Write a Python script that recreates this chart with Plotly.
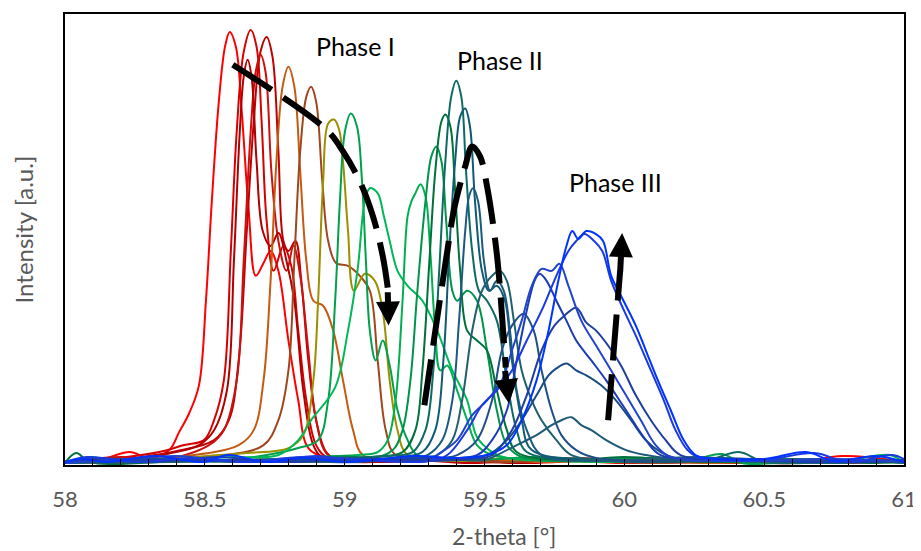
import plotly.graph_objects as go

# ---------------- data (2-theta in degrees, intensity in a.u.) ----------------
x_ticks = [58, 58.5, 59, 59.5, 60, 60.5, 61]
x_tick_labels = ["58", "58.5", "59", "59.5", "60", "60.5", "61"]

# Phase I (red -> brown -> olive -> green)
c01 = [(58.000,3),(58.124,5),(58.231,13),(58.302,7),(58.373,15),(58.408,33),(58.444,52),(58.479,80),(58.504,165),(58.525,265),(58.550,365),(58.572,420),(58.589,435),(58.611,420),(58.632,355),(58.657,255),(58.682,190),(58.710,203),(58.735,215),(58.763,195),(58.799,125),(58.834,65),(58.870,17),(58.941,7),(59.1,4),(59.3,8),(59.5,3),(59.7,6),(60.0,2),(60.3,5),(60.6,2),(60.78,9),(61.0,3)]
c02 = [(58.000,2),(58.195,7),(58.337,13),(58.426,20),(58.497,25),(58.533,45),(58.568,85),(58.593,215),(58.614,335),(58.639,415),(58.664,437),(58.685,420),(58.703,345),(58.721,245),(58.746,195),(58.781,220),(58.809,200),(58.834,135),(58.863,65),(58.898,20),(58.941,7),(59.15,3),(59.4,7),(59.65,2),(59.9,5),(60.2,3),(60.5,6),(60.75,2),(61.0,4)]
c03 = [(58.000,4),(58.15,3),(58.3,9),(58.40,14),(58.533,25),(58.586,45),(58.621,105),(58.650,235),(58.675,345),(58.699,415),(58.721,430),(58.742,410),(58.763,315),(58.781,225),(58.799,215),(58.824,225),(58.845,185),(58.870,105),(58.898,45),(58.934,13),(58.976,5),(59.2,6),(59.45,2),(59.7,5),(60.0,3),(60.35,6),(60.6,2),(60.85,5),(61.0,2)]
c04 = [(58.000,3),(58.2,8),(58.35,5),(58.515,20),(58.568,35),(58.614,85),(58.639,205),(58.664,335),(58.682,395),(58.699,412),(58.717,395),(58.738,295),(58.763,225),(58.792,195),(58.817,220),(58.841,190),(58.870,115),(58.898,45),(58.941,10),(59.05,4),(59.25,7),(59.55,3),(59.8,6),(60.1,2),(60.4,5),(60.7,3),(61.0,5)]
c05 = [(58.000,2),(58.1,6),(58.25,4),(58.38,12),(58.479,20),(58.533,35),(58.579,75),(58.604,205),(58.625,335),(58.639,390),(58.653,407),(58.667,390),(58.685,305),(58.707,235),(58.735,220),(58.763,233),(58.792,205),(58.820,165),(58.852,75),(58.888,20),(58.923,7),(59.1,3),(59.35,6),(59.6,2),(59.85,5),(60.15,3),(60.45,2),(60.8,4),(61.0,3)]
c06 = [(58.000,3),(58.2,5),(58.4,8),(58.621,20),(58.675,35),(58.710,85),(58.735,185),(58.756,305),(58.778,380),(58.799,400),(58.820,380),(58.841,295),(58.863,205),(58.888,165),(58.923,160),(58.959,135),(58.994,85),(59.030,35),(59.065,10),(59.2,4),(59.45,7),(59.7,3),(60.0,5),(60.3,2),(60.6,4),(61.0,3)]
c07 = [(58.000,2),(58.3,5),(58.55,9),(58.710,20),(58.763,45),(58.799,95),(58.820,205),(58.841,315),(58.863,370),(58.880,380),(58.898,365),(58.920,285),(58.941,225),(58.969,203),(59.012,200),(59.054,190),(59.090,175),(59.118,105),(59.147,35),(59.182,10),(59.35,6),(59.6,3),(59.85,7),(60.1,2),(60.4,5),(60.7,3),(61.0,4)]
c08 = [(58.000,3),(58.3,4),(58.55,10),(58.65,12),(58.799,17),(58.852,30),(58.888,85),(58.905,165),(58.923,285),(58.941,343),(58.962,347),(58.980,337),(58.994,305),(59.012,235),(59.033,175),(59.072,192),(59.108,185),(59.136,155),(59.161,85),(59.189,35),(59.225,10),(59.4,4),(59.6,7),(59.9,3),(60.2,5),(60.5,2),(60.8,4),(61.0,2)]
c09 = [(58.000,2),(58.1,8),(58.16,2),(58.3,6),(58.55,4),(58.7,9),(58.834,17),(58.905,25),(58.941,65),(58.966,165),(58.983,265),(59.001,335),(59.022,353),(59.044,340),(59.062,285),(59.076,205),(59.090,135),(59.111,105),(59.136,125),(59.161,100),(59.189,55),(59.225,25),(59.260,10),(59.45,5),(59.7,8),(59.95,3),(60.25,6),(60.35,11),(60.42,2),(60.55,2),(60.85,5),(61.0,3)]
c10 = [(58.000,3),(58.3,5),(58.6,8),(58.763,10),(58.834,25),(58.880,45),(58.966,78),(59.012,135),(59.047,198),(59.072,265),(59.090,278),(59.118,273),(59.140,250),(59.161,225),(59.189,195),(59.225,180),(59.278,165),(59.331,135),(59.385,95),(59.438,65),(59.473,28),(59.527,13),(59.580,7),(59.8,4),(60.05,7),(60.35,3),(60.65,5),(61.0,2)]

# Phase II (green -> teal)
c11 = [(58.000,2),(58.4,5),(58.7,3),(58.9,8),(59.05,10),(59.118,13),(59.154,25),(59.182,65),(59.207,165),(59.225,250),(59.239,265),(59.253,273),(59.271,282),(59.289,270),(59.306,215),(59.324,135),(59.342,95),(59.367,100),(59.402,75),(59.438,45),(59.473,20),(59.527,10),(59.7,5),(59.95,3),(60.2,6),(60.5,3),(60.8,5),(60.95,10),(61.0,2)]
c12 = [(58.000,3),(58.35,4),(58.8,6),(59.0,9),(59.1,7),(59.172,15),(59.207,35),(59.235,85),(59.260,175),(59.289,265),(59.310,310),(59.328,320),(59.346,305),(59.363,245),(59.385,175),(59.402,165),(59.438,175),(59.473,165),(59.509,115),(59.544,55),(59.580,20),(59.633,8),(59.85,4),(60.1,7),(60.4,3),(60.7,5),(61.0,3)]
c13 = [(58.000,2),(58.04,12),(58.09,3),(58.5,5),(58.85,4),(59.1,8),(59.207,13),(59.253,35),(59.278,95),(59.303,205),(59.324,295),(59.346,345),(59.360,352),(59.378,340),(59.395,275),(59.413,195),(59.438,135),(59.473,125),(59.509,115),(59.544,75),(59.580,35),(59.615,13),(59.8,5),(60.0,8),(60.3,3),(60.6,6),(60.9,2),(61.0,4)]
c14 = [(58.000,3),(58.4,4),(58.9,7),(59.15,9),(59.243,13),(59.289,35),(59.317,95),(59.338,195),(59.360,305),(59.381,370),(59.399,386),(59.417,370),(59.434,295),(59.456,215),(59.480,175),(59.509,165),(59.544,145),(59.580,85),(59.615,35),(59.651,13),(59.85,6),(60.1,3),(60.3,5),(60.41,13),(60.5,3),(60.75,3),(61.0,4)]
c15 = [(58.000,2),(58.6,5),(59.0,4),(59.2,8),(59.278,13),(59.324,35),(59.353,105),(59.374,215),(59.395,305),(59.413,350),(59.431,358),(59.448,340),(59.466,265),(59.491,195),(59.516,175),(59.544,180),(59.573,165),(59.598,105),(59.633,45),(59.669,15),(59.9,5),(60.15,3),(60.4,6),(60.7,2),(61.0,4)]
c16 = [(58.000,3),(58.7,5),(59.05,3),(59.25,8),(59.296,10),(59.349,25),(59.385,65),(59.409,145),(59.431,235),(59.445,270),(59.459,278),(59.477,265),(59.498,205),(59.520,175),(59.544,185),(59.569,175),(59.591,135),(59.615,75),(59.651,35),(59.704,10),(59.9,4),(60.2,7),(60.5,3),(60.8,5),(61.0,2)]
c17 = [(58.000,2),(58.8,4),(59.2,6),(59.3,8),(59.331,10),(59.385,25),(59.420,65),(59.456,135),(59.491,175),(59.527,190),(59.555,195),(59.580,185),(59.605,145),(59.633,95),(59.669,65),(59.704,45),(59.757,25),(59.811,10),(60.0,5),(60.25,8),(60.55,3),(60.85,5),(61.0,2)]
c18 = [(58.000,3),(58.9,5),(59.25,4),(59.35,7),(59.402,10),(59.473,25),(59.527,65),(59.562,115),(59.598,140),(59.640,152),(59.676,135),(59.704,95),(59.740,55),(59.775,30),(59.828,15),(59.899,7),(60.1,4),(60.35,7),(60.65,3),(60.9,5),(61.0,3)]

# Phase III (teal -> blue)
c19 = [(58.000,2),(58.3,5),(58.7,3),(59.0,4),(59.35,6),(59.5,5),(59.544,10),(59.615,20),(59.686,30),(59.740,40),(59.775,45),(59.811,48),(59.846,40),(59.882,35),(59.935,25),(60.006,15),(60.077,10),(60.148,7),(60.4,4),(60.7,6),(61.0,3)]
c20 = [(58.000,3),(58.45,6),(58.8,3),(59.1,5),(59.4,7),(59.509,10),(59.580,25),(59.633,45),(59.686,70),(59.729,90),(59.757,97),(59.793,102),(59.828,95),(59.864,90),(59.917,80),(59.970,65),(60.024,45),(60.077,25),(60.130,13),(60.183,7),(60.45,5),(60.75,3),(61.0,4)]
c21 = [(58.000,2),(58.2,6),(58.6,4),(58.95,7),(59.2,4),(59.45,6),(59.527,10),(59.598,35),(59.651,70),(59.704,115),(59.750,140),(59.786,150),(59.828,158),(59.864,143),(59.899,135),(59.942,120),(59.988,100),(60.041,70),(60.095,45),(60.148,25),(60.201,10),(60.5,5),(60.8,3),(61.0,4)]
c22 = [(58.000,3),(58.12,7),(58.3,3),(58.55,8),(58.75,3),(59.0,6),(59.3,7),(59.473,10),(59.527,25),(59.580,55),(59.615,105),(59.651,155),(59.679,185),(59.697,192),(59.722,185),(59.757,165),(59.793,145),(59.828,125),(59.882,105),(59.935,85),(60.006,55),(60.077,25),(60.130,10),(60.4,6),(60.7,3),(61.0,5)]
c23 = [(58.000,2),(58.18,5),(58.4,9),(58.62,3),(58.85,8),(59.1,5),(59.3,4),(59.331,10),(59.402,25),(59.456,50),(59.509,65),(59.562,85),(59.598,115),(59.633,145),(59.669,180),(59.704,197),(59.740,195),(59.768,202),(59.800,180),(59.846,145),(59.899,120),(59.953,95),(60.006,70),(60.059,45),(60.112,20),(60.166,8),(60.45,4),(60.75,6),(61.0,3)]
c24 = [(58.000,3),(58.08,8),(58.25,3),(58.45,7),(58.68,3),(58.9,9),(59.0,6),(59.3,4),(59.367,10),(59.438,35),(59.491,60),(59.544,75),(59.598,95),(59.651,125),(59.704,155),(59.757,190),(59.800,215),(59.828,225),(59.857,232),(59.892,225),(59.921,215),(59.953,185),(59.999,155),(60.041,130),(60.095,95),(60.141,65),(60.183,35),(60.226,15),(60.272,7),(60.5,5),(60.68,12),(60.8,3),(60.96,10),(61.0,6)]
c25 = [(58.000,2),(58.05,6),(58.15,3),(58.32,9),(58.5,3),(58.58,10),(58.72,3),(58.85,7),(59.0,3),(59.1,5),(59.25,9),(59.4,7),(59.509,10),(59.580,20),(59.633,45),(59.686,85),(59.729,135),(59.764,185),(59.793,220),(59.814,235),(59.835,227),(59.864,235),(59.899,232),(59.924,225),(59.953,190),(59.988,170),(60.041,140),(60.077,115),(60.120,85),(60.166,55),(60.212,25),(60.254,10),(60.297,7),(60.5,6),(60.65,13),(60.75,4),(60.9,9),(61.0,3)]

curves = [c01, c02, c03, c04, c05, c06, c07, c08, c09, c10, c11, c12, c13,
          c14, c15, c16, c17, c18, c19, c20, c21, c22, c23, c24, c25]
colors = ["#FF0000", "#D60000", "#C00000", "#CC1010", "#B00000", "#C55A11", "#A0461E",
          "#9C8F00", "#00A04C", "#00B858", "#00B050", "#00944A", "#00703C", "#0D6B63",
          "#0F5C72", "#1B5A7E", "#20606E", "#1F4F86", "#1E5A78", "#1A4D82", "#1F3FA0",
          "#1B3CB4", "#2244CC", "#1A3AE0", "#0033FF"]

# dashed guide arrows
arrow1 = [(58.600,402),(58.934,337),(58.994,315),(59.054,285),(59.101,250),(59.136,210),(59.154,178)]
arrow2 = [(59.285,60),(59.367,215),(59.392,258),(59.431,300),(59.456,320),(59.484,310),(59.509,280),(59.544,212),(59.569,125),(59.576,98)]
arrow3 = [(59.942,45),(59.985,195)]
heads = [((59.154,175),(59.157,140)), ((59.573,96),(59.587,62)), ((59.985,193),(59.992,233))]

phase_labels = ["Phase I", "Phase II", "Phase III"]
phase_pos = [(59.037,421), (59.555,407), (59.970,284)]

# ---------------- figure ----------------
fig = go.Figure()
for pts, col in zip(curves, colors):
    fig.add_trace(go.Scatter(
        x=[p[0] for p in pts], y=[p[1] for p in pts], mode="lines",
        line=dict(color=col, width=2, shape="spline", smoothing=1.0),
        hoverinfo="skip", showlegend=False))

for pts in (arrow1, arrow2, arrow3):
    fig.add_trace(go.Scatter(
        x=[p[0] for p in pts], y=[p[1] for p in pts], mode="lines",
        line=dict(color="black", width=6, dash="46px,14px", shape="spline", smoothing=1.0),
        hoverinfo="skip", showlegend=False))

annotations = []
for (tail, tip) in heads:
    annotations.append(dict(x=tip[0], y=tip[1], ax=tail[0], ay=tail[1],
                            xref="x", yref="y", axref="x", ayref="y", text="",
                            showarrow=True, arrowhead=2, arrowwidth=6, arrowsize=0.8,
                            arrowcolor="black"))
for lab, (px, py) in zip(phase_labels, phase_pos):
    annotations.append(dict(x=px, y=py, xref="x", yref="y", text=lab, showarrow=False,
                            font=dict(family="Lato", size=25, color="black")))
annotations.append(dict(x=0.523, y=-0.157, xref="paper", yref="paper", text="2-theta [°]",
                        xanchor="center", yanchor="middle", showarrow=False,
                        font=dict(family="Lato", size=23, color="#595959")))
annotations.append(dict(x=-0.0497, y=0.523, xref="paper", yref="paper", text="Intensity [a.u.]",
                        xanchor="center", yanchor="middle", textangle=-90, showarrow=False,
                        font=dict(family="Lato", size=24, color="#595959")))

# page body has an 8px default margin: compensate so the plot box sits at 65..910 x 12..465
fig.update_layout(
    width=913, height=543,
    margin=dict(l=57, r=11, t=4, b=86),
    paper_bgcolor="white", plot_bgcolor="white",
    showlegend=False,
    annotations=annotations,
    font=dict(family="Lato", color="#595959"),
    xaxis=dict(range=[58, 61], tickvals=x_ticks, ticktext=x_tick_labels,
               showline=True, linecolor="black", linewidth=1.5, mirror=True,
               ticks="inside", ticklen=6, tickcolor="black", tickwidth=1,
               minor=dict(dtick=0.1, ticks="inside", ticklen=6, tickcolor="black"),
               showgrid=False, zeroline=False, ticklabelstandoff=14,
               ticklabeloverflow="allow",
               tickfont=dict(family="Lato", size=22, color="#595959")),
    yaxis=dict(range=[0, 453], showline=True, linecolor="black", linewidth=1.5, mirror=True,
               showticklabels=False, ticks="", showgrid=False, zeroline=False),
)

fig.write_html("out.html")
